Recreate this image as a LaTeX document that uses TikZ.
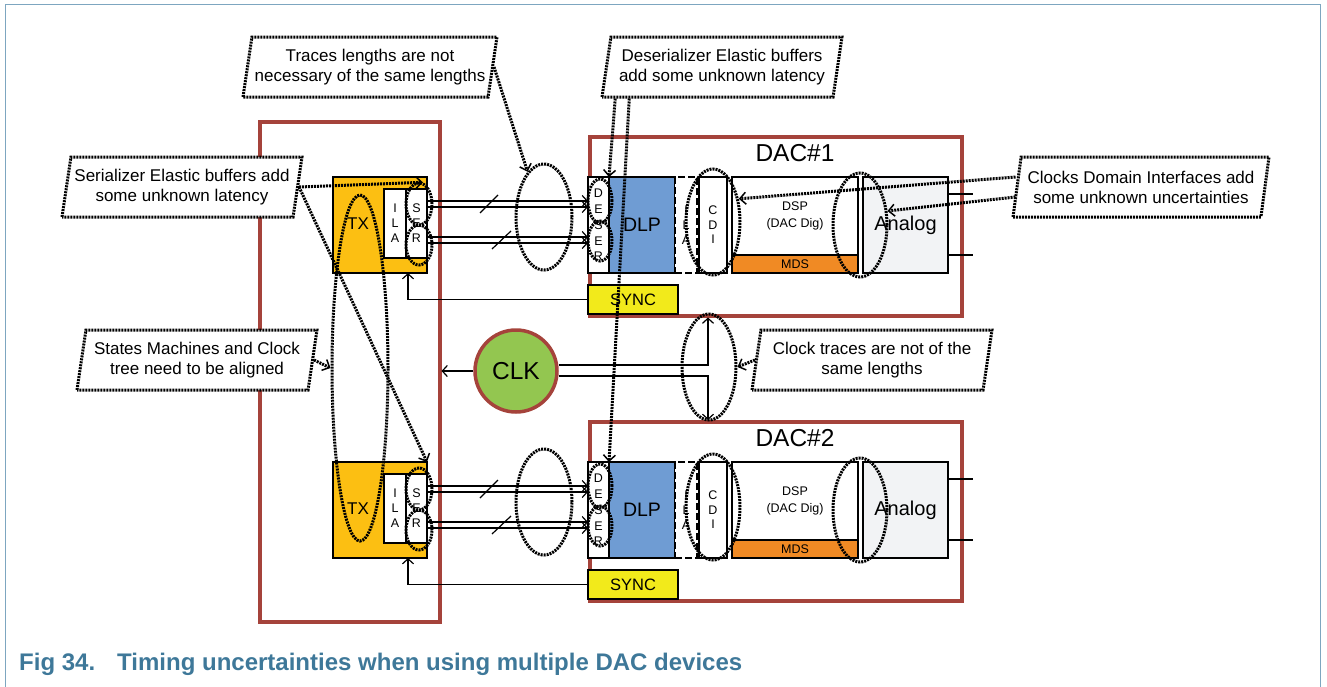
\documentclass[tikz,border=0pt]{standalone}
\usepackage{fontspec}
\setmainfont{Liberation Sans}
\usetikzlibrary{arrows.meta,shapes.geometric}

\definecolor{boxred}{HTML}{A5433B}
\definecolor{txgold}{HTML}{FCBF12}
\definecolor{dlpblue}{HTML}{6F9CD3}
\definecolor{mdsorange}{HTML}{F08A24}
\definecolor{syncyellow}{HTML}{F2EA1B}
\definecolor{clkgreen}{HTML}{93C650}
\definecolor{anagray}{HTML}{F2F3F5}
\definecolor{capblue}{HTML}{3E7899}
\definecolor{frameblue}{HTML}{7DA6C0}

\tikzset{
  wh/.style 2 args={minimum width=#1pt, minimum height=#2pt},
  redbox/.style={draw=boxred, line width=3.5pt, inner sep=0pt, anchor=north west},
  blk/.style={draw, line width=1.3pt, inner sep=0pt, outer sep=0pt, anchor=north west},
  letters/.style={align=center, font=\fontsize{12.5}{15}\selectfont},
  wire/.style={line width=1.2pt},
  dotline/.style={line width=3pt, dash pattern=on 2pt off 1pt},
  oval/.style={ellipse, draw, dotline, inner sep=0pt},
  callout/.style={trapezium, trapezium left angle=76, trapezium right angle=104,
    trapezium stretches body, draw, dotline, fill=white, align=center,
    minimum height=60pt, minimum width=240pt, inner sep=0pt,
    font=\fontsize{17}{20}\selectfont},
  pointer/.style={dotline, -{Straight Barb[length=6pt,width=12pt,line width=1.5pt]}},
}

\begin{document}
\begin{tikzpicture}[x=1pt, y=-1pt, >={Straight Barb[length=5pt,width=11pt]}]
    \useasboundingbox (0,0) rectangle (1327,686);

    % page frame
    \draw[frameblue, line width=1pt] (5,690) -- (5,4) -- (1320,4) -- (1320,690);

    % transmitter side
    \node[redbox, wh={180}{500}] (txc) at (258,120) {};

    \foreach \i/\dy in {1/0, 2/285} {
        % TX block with ILA and SER
        \node[blk, fill=txgold, wh={94}{96}] (tx\i) at (333,177+\dy) {};
        \node[font=\fontsize{17}{17}\selectfont] at (358,224+\dy) {TX};
        \node[blk, fill=white, wh={22}{69}, letters] (ila\i) at (384,189+\dy) {I\\L\\A};
        \node[blk, fill=white, wh={21}{69}, letters] (ser\i) at (406,189+\dy) {S\\E\\R};

        % DAC device
        \node[redbox, wh={372}{179}] (dac\i) at (588,135+\dy) {};
        \node[font=\fontsize{24.5}{24.5}\selectfont] at (795,153+\dy) {DAC\#\i};
        \node[blk, fill=white, wh={21}{96}, letters, font=\fontsize{12.5}{15.75}\selectfont]
            (deser\i) at (588,177+\dy) {D\\E\\S\\E\\R};
        \node[blk, fill=dlpblue, wh={66}{96}, font=\fontsize{19.5}{20}\selectfont]
            (dlp\i) at (609,177+\dy) {DLP};
        \node[blk, fill=white, wh={22}{96}, letters, line width=2pt, dash pattern=on 7pt off 3pt]
            (ilb\i) at (675,177+\dy) {I\\L\\A};
        \node[blk, fill=white, wh={28}{96}, letters, font=\fontsize{12.5}{14.5}\selectfont]
            (cdi\i) at (699,177+\dy) {C\\D\\I};
        \node[blk, fill=white, wh={126}{78}, align=center, font=\fontsize{12.5}{16.5}\selectfont]
            (dsp\i) at (732,177+\dy) {DSP\\(DAC Dig)};
        \node[blk, fill=mdsorange, wh={126}{18}, font=\fontsize{12.5}{12.5}\selectfont]
            (mds\i) at (732,255+\dy) {MDS};
        \node[blk, fill=anagray, wh={85}{96}, font=\fontsize{20}{20}\selectfont]
            (ana\i) at (863,177+\dy) {Analog};
        \node[blk, fill=syncyellow, wh={90}{29}, font=\fontsize{16.5}{16.5}\selectfont]
            (sync\i) at (588,285+\dy) {SYNC};

        % serial lanes
        \foreach \y in {201,207,237,243}
            \draw[wire,->] (ser\i.east |- 0,\y+\dy) -- (deser\i.west |- 0,\y+\dy);
        \draw[wire] (480,213+\dy) -- (498,195+\dy);
        \draw[wire] (492,249+\dy) -- (511,231+\dy);

        % sync back to TX, analog outputs
        \draw[wire,->] (sync\i.west) -| ([xshift=-19pt]tx\i.south east);
        \draw[wire] (ana\i.east |- 0,194+\dy) -- ++(25,0);
        \draw[wire] (ana\i.east |- 0,255+\dy) -- ++(25,0);

        % uncertainty marks
        \node[oval, wh={26}{42}] (sEl\i) at (419,204+\dy) {};
        \node[oval, wh={26}{40}] (rEl\i) at (419,245+\dy) {};
        \node[oval, wh={56}{106}] (trEl\i) at (544,217+\dy) {};
        \node[oval, wh={24}{44}] (dAEl\i) at (600,201+\dy) {};
        \node[oval, wh={24}{40}] (dBEl\i) at (600,241+\dy) {};
        \node[oval, wh={54}{106}] (cdiEl\i) at (713,222+\dy) {};
        \node[oval, wh={54}{104}] (anEl\i) at (860,225+\dy) {};
    }

    % clock
    \node[circle, draw=boxred, line width=3.5pt, fill=clkgreen, minimum size=82pt,
        inner sep=0pt, font=\fontsize{24.5}{24.5}\selectfont] (clk) at (516,371) {CLK};
    \coordinate (ckx) at (708,371);
    \draw[wire,->] (clk.west) -- (clk.west -| txc.east);
    \draw[wire,->] ([yshift=6pt]clk.east) -| (ckx |- dac1.south);
    \draw[wire,->] ([yshift=-5pt]clk.east) -| (ckx |- dac2.north);
    \node[oval, wh={54}{106}] (ckEl) at (709,367) {};
    \node[oval, wh={56}{346}] (tallEl) at (360,368) {};

    % callouts
    \node[callout, minimum width=254pt] (trc) at (370,67)
        {Traces lengths are not\\necessary of the same lengths};
    \node[callout] (dsc) at (722,67)
        {Deserializer Elastic buffers\\add some unknown latency};
    \node[callout] (sec) at (182,187)
        {Serializer Elastic buffers add\\some unknown latency};
    \node[callout, minimum width=256pt] (cdc) at (1141,187)
        {Clocks Domain Interfaces add\\some unknown uncertainties};
    \node[callout] (smc) at (197,360)
        {States Machines and Clock\\tree need to be aligned};
    \node[callout] (ctc) at (872,360)
        {Clock traces are not of the\\same lengths};

    \draw[pointer] (trc.east) -- (trEl1.110);
    \draw[pointer] ([xshift=15pt]dsc.bottom left corner) -- (deser1.north east);
    \draw[pointer] ([xshift=29pt]dsc.bottom left corner) -- (deser2.north east);
    \draw[pointer] (sec.east) -- (sEl1.80);
    \draw[pointer] (sec.east) -- (tx2.north east);
    \draw[pointer] (smc.east) -- (tallEl.west);
    \draw[pointer] (ctc.west) -- (ckEl.east);
    \draw[pointer] ([yshift=10pt]cdc.west) -- (cdiEl1.42);
    \draw[pointer] ([yshift=-10pt]cdc.west) -- (anEl1.27);

    % caption
    \node[anchor=west, inner sep=0pt, text=capblue, font=\bfseries\fontsize{24}{26}\selectfont]
        (cap) at (19,664) {Fig 34.\hspace{22pt}Timing uncertainties when using multiple DAC devices};
\end{tikzpicture}
\end{document}
